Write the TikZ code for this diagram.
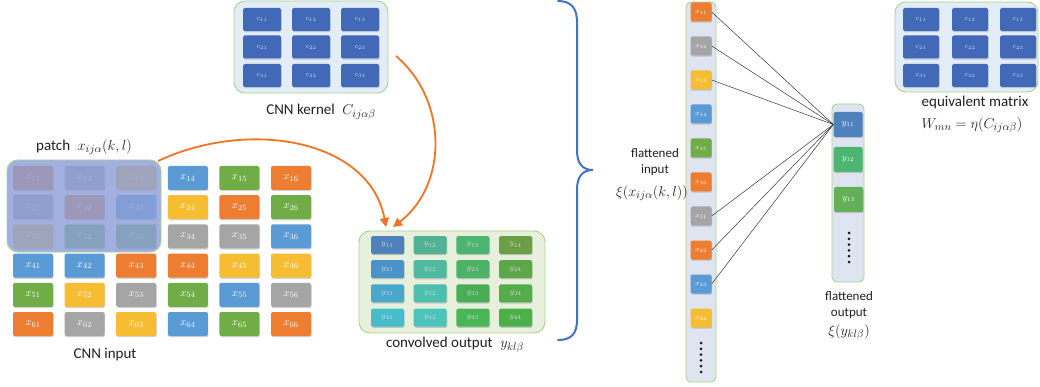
\documentclass[tikz,border=0pt]{standalone}
\usepackage{fontspec}
\setmainfont{Carlito}
\usetikzlibrary{arrows.meta,shadows,calc}
\definecolor{cor}{HTML}{ED7D31}
\definecolor{cgy}{HTML}{A5A5A5}
\definecolor{cye}{HTML}{F6BD33}
\definecolor{cbl}{HTML}{5B9BD5}
\definecolor{cgn}{HTML}{70AD47}
\definecolor{kblue}{HTML}{4169B8}
\definecolor{boxgreen}{HTML}{A9D18E}
\definecolor{kfill}{HTML}{E2EDF7}
\definecolor{ofill}{HTML}{E6F0DC}
\definecolor{colfill}{HTML}{DFE5F0}
\definecolor{patchfill}{HTML}{8C9FD8}
\definecolor{bracecol}{HTML}{4472C4}
\definecolor{arrcol}{HTML}{F47321}
\definecolor{y11}{HTML}{4F81BD}\definecolor{y12}{HTML}{52B394}\definecolor{y13}{HTML}{4DB572}\definecolor{y14}{HTML}{6A9F48}
\definecolor{y21}{HTML}{4A93C9}\definecolor{y22}{HTML}{4FBAA0}\definecolor{y23}{HTML}{4BB266}\definecolor{y24}{HTML}{5EA64A}
\definecolor{y31}{HTML}{48A7CB}\definecolor{y32}{HTML}{4CBFAE}\definecolor{y33}{HTML}{49AD55}\definecolor{y34}{HTML}{55AC4A}
\definecolor{y41}{HTML}{47BDCB}\definecolor{y42}{HTML}{4BC4BC}\definecolor{y43}{HTML}{4AB556}\definecolor{y44}{HTML}{4CB04A}
\tikzset{
  cellbase/.style={rounded corners=1.5pt, inner sep=0pt, text=white,
     drop shadow={opacity=0.35, shadow xshift=0.6pt, shadow yshift=-1.2pt}},
  xcell/.style={cellbase, minimum width=40pt, minimum height=24pt, font=\fontsize{11}{11}\selectfont},
  kcell/.style={cellbase, fill=kblue, minimum width=38pt, minimum height=23pt, text=white!80!kblue, font=\fontsize{7}{7}\selectfont},
  ycell/.style={cellbase, minimum width=33pt, minimum height=18pt, text=white!85!black, font=\fontsize{8}{8}\selectfont},
  fcell/.style={cellbase, minimum width=21pt, minimum height=19pt, font=\fontsize{7.5}{7.5}\selectfont},
  ocell/.style={cellbase, minimum width=29pt, minimum height=25pt, font=\fontsize{9}{9}\selectfont},
  gbox/.style={draw=boxgreen, line width=0.9pt, rounded corners=11pt, inner sep=0pt},
  colbox/.style={draw=boxgreen, fill=colfill, line width=0.9pt, rounded corners=5pt, inner sep=0pt},
  lab/.style={font=\fontsize{15}{18}\selectfont, inner sep=0pt, text=black!88},
  smalllab/.style={font=\fontsize{13}{16}\selectfont, inner sep=0pt, align=center, text=black!88},
  conv/.style={arrcol, line width=1.8pt, -{Triangle[length=9pt,width=9pt]}},
  wire/.style={black!80, line width=0.5pt},
  dot/.style={circle, fill=black!90, inner sep=0pt, minimum size=3pt}
}
\begin{document}
\begin{tikzpicture}[x=1pt,y=-1pt]
\useasboundingbox (0,0) rectangle (1040,387);

% ---------- CNN input ----------
\foreach \row [count=\i] in {{or,gy,ye,bl,gn,or},{gy,or,bl,ye,or,gn},{ye,gn,gn,gy,gy,bl},{bl,bl,or,or,ye,ye},{gn,ye,gy,gn,bl,gy},{or,gy,ye,bl,gn,or}}{
  \foreach \c [count=\j] in \row {
    \node[xcell, fill=c\c] (x\i\j) at ({33+51.6*(\j-1)},{178+29.2*(\i-1)}) {$x_{\i\j}$};
  }
}
\node[gbox, fill=patchfill, fill opacity=0.82, minimum width=154pt, minimum height=92pt] (patch) at (84,206) {};
\node[lab] (patchlab) at (84,147) {patch\; $x_{ij\alpha}(k,l)$};
\node[lab] (inlab) at (105,355) {CNN input};

% ---------- kernel ----------
\node[gbox, fill=kfill, minimum width=154pt, minimum height=92pt] (kern) at (311,47) {};
\foreach \i/\yy in {1/19.5,2/47,3/75.5}{
  \foreach \j/\xx in {1/262,2/311,3/360}{
    \node[kcell] (c\i\j) at (\xx,\yy) {$c_{\i\j}$};
  }
}
\node[lab] (kernlab) at (321,112) {CNN kernel\; $C_{ij\alpha\beta}$};

% ---------- convolved output ----------
\node[gbox, fill=ofill, minimum width=186pt, minimum height=102pt] (outbox) at (452,282) {};
\foreach \i in {1,...,4}{
  \foreach \j in {1,...,4}{
    \node[ycell, fill=y\i\j] (y\i\j) at ({387.5+42.7*(\j-1)},{245+24.2*(\i-1)}) {$y_{\i\j}$};
  }
}
\node[lab] (outlab) at (455,345) {convolved output\; $y_{kl\beta}$};

% ---------- arrows ----------
\coordinate (a1s) at (396,56);
\coordinate (a1e) at (393,227);
\coordinate (a2s) at (158,161);
\coordinate (a2e) at (386,227);
\draw[conv] (a1s) .. controls (448,100) and (448,185) .. (a1e);
\draw[conv] (a2s) .. controls (250,118) and (370,140) .. (a2e);

% ---------- brace ----------
\draw[bracecol, line width=2pt, line cap=round]
  (558,1) .. controls (571,1) and (577,8) .. (577,22) -- (577,150)
  .. controls (577,163) and (582,170) .. (593,170)
  .. controls (582,170) and (577,177) .. (577,190) -- (577,320)
  .. controls (577,334) and (571,340) .. (558,340);

% ---------- flattened input ----------
\node[colbox, minimum width=30pt, minimum height=380pt] (fcol) at (701,192) {};
\foreach \c/\lbl [count=\k] in {or/11,gy/12,ye/13,bl/14,gn/15,or/16,gy/21,or/22,bl/23,ye/24}{
  \node[fcell, fill=c\c] (f\k) at (701,{12+34.0*(\k-1)}) {$x_{\lbl}$};
}
\foreach \k in {0,...,5}{
  \node[dot] (fd\k) at (701,{343+5.8*\k}) {};
}
\node[smalllab] (finlab) at (655,162) {flattened\\input};
\node[lab] (finmath) at (652,193) {$\xi(x_{ij\alpha}(k,l))$};

% ---------- flattened output ----------
\node[colbox, minimum width=32pt, minimum height=178pt] (ocol) at (848,193) {};
\node[ocell, fill=y11] (o1) at (848,124.5) {$y_{11}$};
\node[ocell, fill=y13] (o2) at (848,159.5) {$y_{12}$};
\node[ocell, fill=cgn!60!y13] (o3) at (848.5,199.5) {$y_{13}$};
\foreach \k in {0,...,5}{
  \node[dot] (od\k) at (849,{233+5.8*\k}) {};
}
\node[smalllab] (foutlab) at (849,305) {flattened\\output};
\node[lab] (foutmath) at (849,332) {$\xi(y_{kl\beta})$};

% ---------- wires ----------
\foreach \k in {1,2,3,7,8,9}{
  \draw[wire] (f\k.east) -- (o1.west);
}

% ---------- equivalent matrix ----------
\node[gbox, fill=kfill, minimum width=143pt, minimum height=90pt] (eq) at (966.5,47) {};
\foreach \i/\yy in {1/19.5,2/47,3/75.5}{
  \foreach \j/\xx in {1/921,2/970,3/1018}{
    \node[kcell, minimum width=36pt] (e\i\j) at (\xx,\yy) {$c_{\i\j}$};
  }
}
\node[lab] (eqlab) at (975,103) {equivalent matrix};
\node[lab] (eqmath) at (972,125) {$W_{mn}=\eta(C_{ij\alpha\beta})$};
\end{tikzpicture}
\end{document}
